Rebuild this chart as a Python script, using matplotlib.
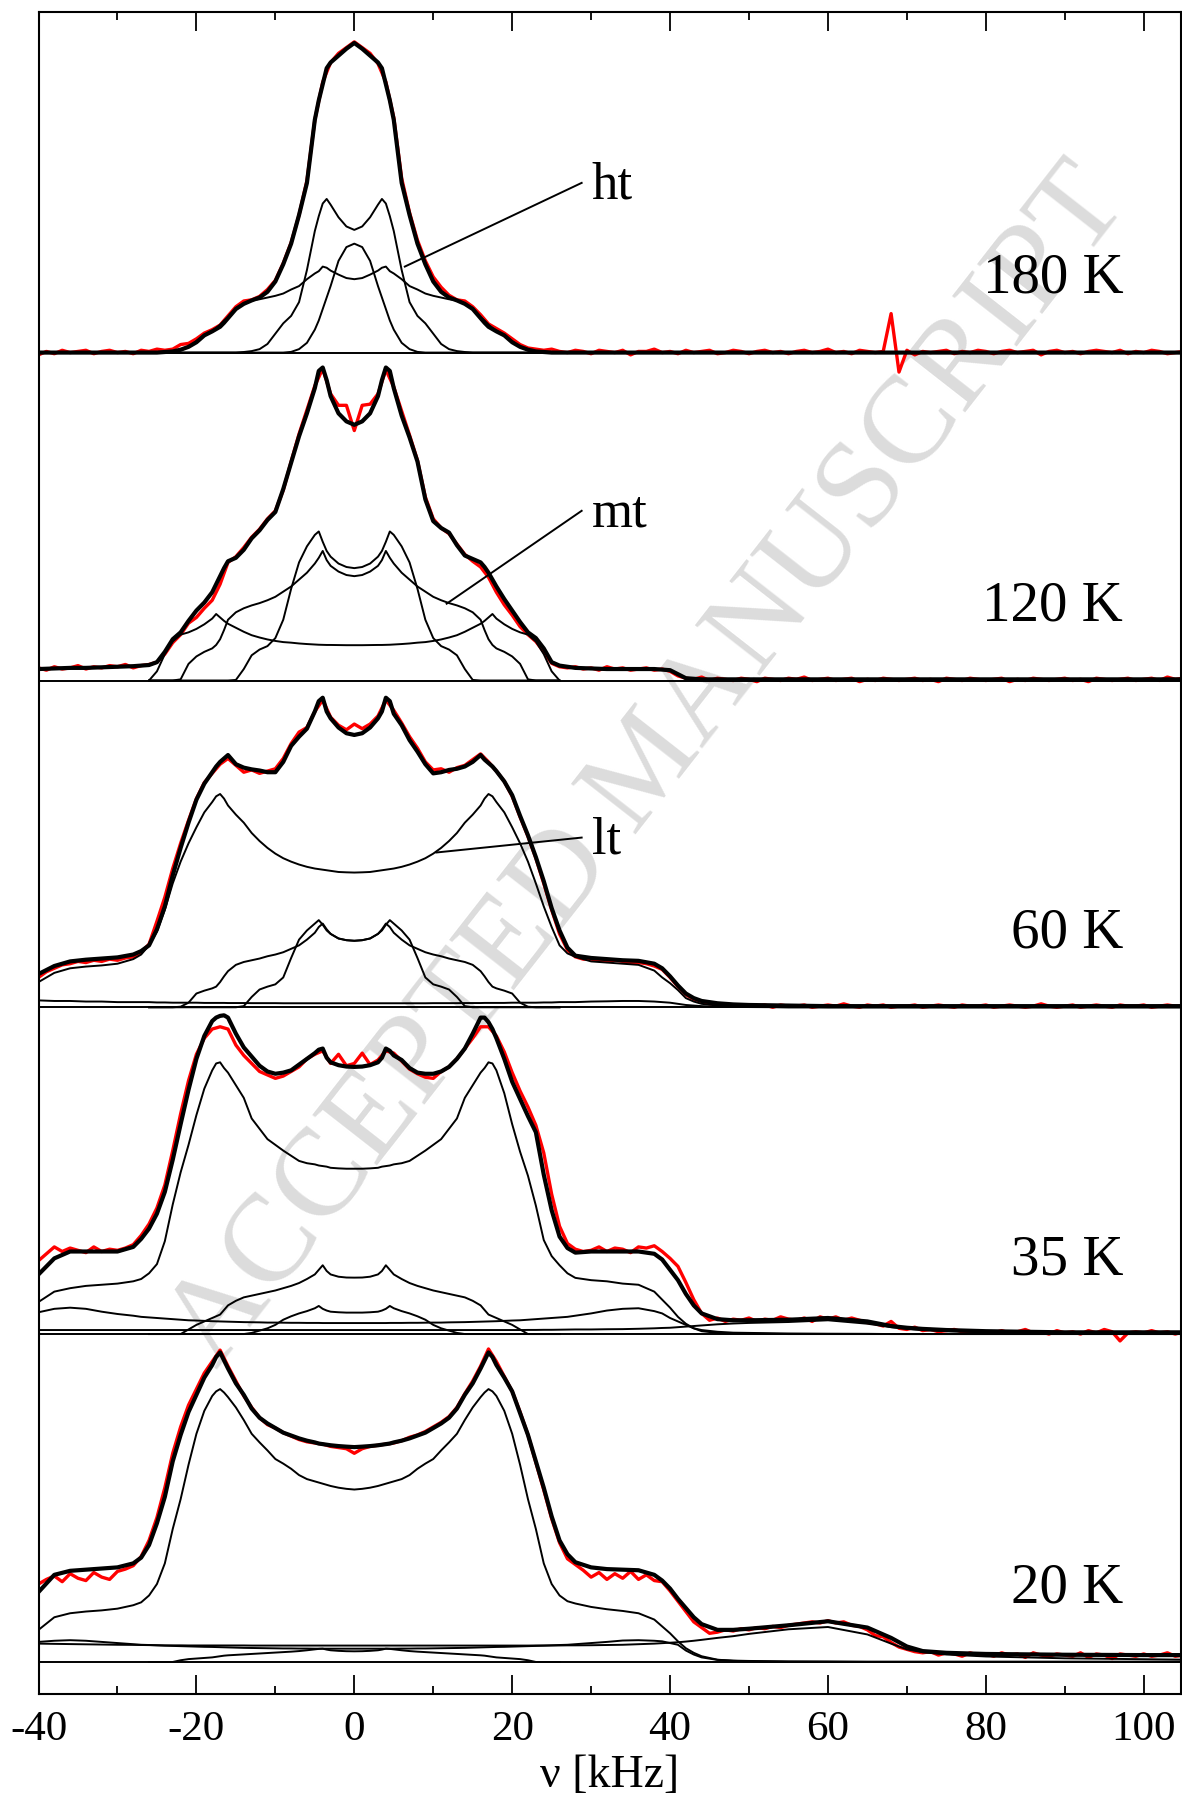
import matplotlib
matplotlib.use('Agg')
import matplotlib.pyplot as plt
import numpy as np

plt.rcParams['font.family'] = ['Liberation Serif', 'DejaVu Serif']
plt.rcParams['axes.unicode_minus'] = False

# frequency grids [kHz]
nu = [-40, -38, -36, -34, -32, -30, -28, -27, -26, -25,
      -24, -23, -22, -21, -20, -19, -18, -17.5, -17, -16.5,
      -16, -15, -14, -13, -12, -11, -10, -9, -8, -7,
      -6, -5, -4.5, -4, -3.5, -3, -2, -1, 0, 1,
      2, 3, 3.5, 4, 4.5, 5, 6, 7, 8, 9,
      10, 11, 12, 13, 14, 15, 16, 16.5, 17, 17.5,
      18, 19, 20, 21, 22, 23, 24, 25, 26, 27,
      28, 30, 32, 34, 36, 38, 39, 40, 41, 42,
      43, 44, 46, 48, 50, 55, 60, 65, 68, 70,
      72, 75, 80, 90, 100, 105]
nu_core = [-26, -25, -24, -23, -22, -21, -20, -19, -18, -17.5,
           -17, -16.5, -16, -15, -14, -13, -12, -11, -10, -9,
           -8, -7, -6, -5, -4.5, -4, -3.5, -3, -2, -1,
           0, 1, 2, 3, 3.5, 4, 4.5, 5, 6, 7,
           8, 9, 10, 11, 12, 13, 14, 15, 16, 16.5,
           17, 17.5, 18, 19, 20, 21, 22, 23, 24, 25,
           26]
nu_exp = list(range(-40, 106))

temps = ['180 K', '120 K', '60 K', '35 K', '20 K']
phases = ['ht', 'mt', 'lt']

# ---------------- 180 K ----------------
exp_180 = [-2, 1, -1, 2, 0, 1, 2, -1, 1, 2,
           0, 1, -1, 2, 1, 3, 2, 3, 7, 8,
           12, 17, 20, 24, 32, 40, 45, 46, 49, 55,
           63, 78, 96, 120, 150, 203, 236, 253, 261, 266,
           271, 266, 261, 252, 236, 205, 152, 122, 98, 80,
           66, 57, 50, 46, 45, 40, 33, 25, 21, 17,
           12, 7, 4, 3, 2, 3, 1, 0, 2, 1,
           -1, 2, 1, 0, 2, -2, 1, 1, 3, 0,
           1, -1, 2, 0, 1, 2, -1, 0, 2, 1,
           -1, 1, 2, 0, 1, -1, 1, 2, 0, 1,
           3, 0, 1, -1, 2, 1, 0, 1, 34, -17,
           2, -2, 1, 0, 1, 2, -1, 1, 0, 2,
           1, -1, 1, 2, 0, 1, 2, -2, 1, 2,
           0, 1, -1, 1, 2, 1, 0, 2, -1, 1,
           0, 2, 1, -1, 0, 1]
fit_180 = [0] * 10 + [
    0.5, 1, 2.5, 5, 9, 15, 18.5, 20.5, 22.5, 26,
    30, 38, 42.5, 45.5, 48, 53, 62, 77, 95, 120,
    148, 203, 220, 234, 248, 253, 259, 265, 270, 265,
    259, 253, 248, 234, 220, 203, 148, 120, 95, 77,
    62, 53, 48, 45.5, 42.5, 38, 30, 26, 22.5, 20.5,
    18.5, 15, 9, 5, 2.5, 1, 0.5, 0, 0, 0] + [0] * 26
ht_180 = [0] * 10 + [
    0, 0, 0, 0, 0.5, 1.3, 3, 7.5, 16.5, 25.5,
    32, 44, 72, 106, 119, 130, 134, 129, 118, 110,
    107, 110, 118, 129, 134, 130, 119, 106, 72, 44,
    32, 25.5, 16.5, 7.5, 3, 1.3, 0.5, 0, 0, 0] + [0] * 11
cen_180 = [0] * 20 + [
    0.6, 3, 8.5, 20, 28, 38, 48, 58, 80, 92,
    95, 92, 80, 58, 48, 38, 28, 20, 8.5, 3,
    0.6] + [0] * 20
brd_180 = [0, 0, 0, 0.5, 2, 5, 10, 15, 19, 21.5,
           24.5, 28, 31, 39, 42.5, 45.5, 46.5, 48, 49.5, 51.5,
           55, 58, 64, 69, 71, 75, 74, 71.5, 68, 65,
           64, 65, 68, 71.5, 74, 75, 71, 69, 64, 58,
           55, 51.5, 49.5, 48, 46.5, 45.5, 42.5, 39, 31, 28,
           24.5, 21.5, 19, 15, 10, 5, 2, 0.5, 0, 0,
           0]

# ---------------- 120 K ----------------
exp_120 = [11, 9, 12, 10, 11, 13, 10, 12, 11, 13,
           12, 14, 11, 13, 14, 16, 23, 33, 40, 50,
           55, 63, 70, 84, 103, 108, 116, 125, 132, 141,
           148, 166, 191, 215, 236, 257, 272, 250, 240, 240,
           218, 240, 241, 250, 271, 256, 235, 214, 192, 160,
           141, 133, 128, 119, 110, 104, 99, 90, 77, 66,
           57, 47, 40, 34, 25, 15, 12, 11, 12, 10,
           11, 9, 12, 10, 11, 9, 10, 11, 9, 10,
           8, 4, 2, 1, 3, 0, 2, 1, 0, 2,
           1, -1, 2, 1, 0, 2, 1, 3, 0, 1,
           2, 0, 1, 2, -1, 1, 0, 2, 1, 0,
           1, 2, 0, 1, -1, 2, 1, 0, 2, 1,
           0, 1, 2, -1, 1, 0, 2, 1, 0, 1,
           2, 0, 1, -1, 2, 1, 0, 1, 2, 0,
           1, 2, 0, 3, 1, 2]
fit_120 = [10, 10.5, 11, 11, 11.5, 12, 12.5, 13, 13.5, 16,
           25, 36, 42, 52, 61, 68, 77, 84, 91, 98,
           104, 107, 114, 124, 131, 140, 147, 167, 190, 213,
           233, 255, 270, 273, 262, 248, 233, 226, 223, 226,
           233, 248, 262, 273, 270, 255, 231, 212, 191, 158,
           139, 133, 129, 118, 109, 106, 103, 99, 94, 88,
           82, 71, 61, 51, 42, 37, 28, 16, 13, 12,
           11, 10.5, 10, 10, 10, 10, 9.5, 9, 5.5, 2,
           1.5, 1, 1, 1, 1, 1, 1, 1, 1, 1,
           1, 1, 1, 1, 1, 1]
ht_120 = [0] * 10 + [
    0, 0, 0, 0.5, 10, 22, 27, 30, 37, 53,
    80, 103, 117, 127, 130, 121, 113, 108, 102, 99,
    98, 99, 102, 108, 113, 121, 130, 127, 117, 103,
    80, 53, 37, 30, 27, 22, 10, 0.5, 0, 0] + [0] * 11
mt_120 = [0, 0, 0, 0, 1, 14.5, 21, 25, 28, 31,
          36, 44, 53, 59.5, 63, 65.5, 67.5, 70, 73, 77.5,
          82, 88, 94, 102, 107, 113, 105, 100, 95, 92,
          91, 92, 95, 100, 105, 113, 107, 102, 94, 88,
          82, 77.5, 73, 70, 67.5, 65.5, 63, 59.5, 53, 44,
          36, 31, 28, 25, 21, 14.5, 1, 0, 0, 0,
          0]
lt_120 = [0, 8, 23, 34, 40, 42, 45, 49, 54, 58,
          55, 52, 49.5, 46, 42.5, 39.5, 37.5, 35.8, 34.5, 33.5,
          33, 32.3, 31.8, 31.4, 31.2, 31.1, 31, 31, 30.9, 30.8,
          30.8, 30.8, 30.9, 31, 31, 31.1, 31.2, 31.4, 31.8, 32.3,
          33, 33.5, 34.5, 35.8, 37.5, 39.5, 42.5, 46, 49.5, 52,
          55, 58, 54, 49, 45, 42, 40, 34, 23, 8,
          0]

# ---------------- 60 K ----------------
exp_60 = [26, 31, 34, 37, 38, 40, 39, 41, 40, 42,
          41, 43, 44, 48, 55, 75, 96, 121, 143, 163,
          182, 196, 204, 212, 217, 211, 205, 207, 204, 206,
          208, 217, 230, 240, 244, 258, 268, 253, 246, 242,
          247, 243, 247, 254, 268, 259, 248, 236, 226, 214,
          207, 208, 205, 209, 211, 216, 221, 214, 206, 197,
          184, 166, 149, 130, 108, 85, 64, 50, 44, 42,
          42, 41, 40, 41, 40, 39, 39, 38, 36, 33,
          26, 18, 11, 7, 5, 3, 3, 2, 2, 1,
          2, 1, 2, 0, 2, 1, 1, 2, 0, 1,
          2, 1, 3, 1, 0, 2, 1, 2, 0, 1,
          1, 2, 0, 1, 2, 1, 0, 2, 1, 1,
          2, 0, 1, 2, 1, 0, 1, 3, 1, 0,
          1, 2, 0, 1, 2, 1, 0, 2, 1, 1,
          2, 0, 1, 2, 1, 1]
fit_60 = [29, 36, 40, 41.5, 42.5, 43.5, 46, 49, 54, 68,
          88, 115, 139, 161, 181, 195, 205, 210, 214, 217,
          220, 212, 209, 207.5, 206.5, 205, 205, 214, 228, 236,
          243, 258, 267, 270, 258, 252, 244, 239, 237.5, 239,
          244, 252, 258, 270, 267, 256, 246, 233, 223, 212,
          204, 205, 207, 208, 210, 214, 220, 216, 213, 210,
          206, 197, 185, 167, 150, 131, 110, 86.5, 67, 52,
          45, 43, 42, 41, 40.5, 38, 34, 27, 19, 12,
          8, 5.5, 3.5, 2.5, 2, 1.5, 1, 1, 1, 1,
          1, 1, 1, 1, 1, 1]
lt_60 = [22, 30, 34, 35.5, 36.5, 38, 42, 46, 54, 66,
         85, 108, 127, 143, 157, 170, 179, 184, 186, 182,
         176, 168, 161, 152, 145, 139, 134, 130, 127, 124.5,
         122.5, 121, 120.5, 120, 119.5, 119, 118, 117.7, 117.5, 117.7,
         118, 119, 119.5, 120, 120.5, 121, 122.5, 124.5, 127, 130,
         134, 139, 145, 152, 161, 168, 176, 182, 186, 184,
         179, 170, 157, 143, 127, 108, 88, 70, 54, 47,
         44, 40, 39, 38, 37, 32, 26, 21, 15, 8,
         5, 3, 1.5, 0.8, 0.5, 0, 0, 0, 0, 0,
         0, 0, 0, 0, 0, 0]
low_60 = [6, 5.5, 5.5, 5, 5, 4.5, 4.5, 4.5, 4.5, 4.2,
          4.2, 4, 4, 4, 4, 3.8, 3.8, 3.8, 3.8, 3.8,
          3.7, 3.7, 3.7, 3.6, 3.6, 3.6, 3.6, 3.5, 3.5, 3.5,
          3.5, 3.5, 3.5, 3.5, 3.5, 3.5, 3.5, 3.5, 3.5, 3.5,
          3.5, 3.5, 3.5, 3.5, 3.5, 3.5, 3.5, 3.5, 3.5, 3.5,
          3.6, 3.6, 3.6, 3.6, 3.7, 3.7, 3.7, 3.8, 3.8, 3.8,
          3.8, 3.8, 4, 4, 4, 4, 4.2, 4.2, 4.5, 4.5,
          4.5, 5, 5.2, 5.5, 5.5, 5, 4.5, 4, 3, 2,
          1.5, 1, 0.5, 0.3, 0.2, 0, 0, 0, 0, 0,
          0, 0, 0, 0, 0, 0]
ht_60 = [0] * 10 + [
    0, 0, 0, 0, 1, 9, 15.5, 18, 20, 26,
    43, 59, 67, 73, 76, 72, 67, 64, 60, 58.5,
    58, 58.5, 60, 64, 67, 72, 76, 73, 67, 59,
    43, 26, 20, 18, 15.5, 9, 1, 0, 0, 0] + [0] * 11
mt_60 = [0, 0, 0, 0, 0.5, 4, 12, 14.5, 16.5, 18,
         22, 27, 31.5, 37, 39.5, 41, 42.5, 44.5, 46, 48,
         51, 54, 59, 65, 70, 73, 68, 64, 60, 58.5,
         58, 58.5, 60, 64, 68, 73, 70, 65, 59, 54,
         51, 48, 46, 44.5, 42.5, 41, 39.5, 37, 31.5, 27,
         22, 18, 16.5, 14.5, 12, 4, 0.5, 0, 0, 0,
         0]

# ---------------- 35 K ----------------
exp_35 = [64, 70, 76, 72, 75, 73, 71, 76, 72, 74,
          73, 75, 78, 86, 96, 110, 130, 160, 192, 221,
          244, 258, 266, 268, 266, 252, 243, 236, 229, 226,
          223, 225, 229, 233, 240, 244, 247, 236, 244, 234,
          236, 245, 235, 239, 247, 245, 238, 231, 227, 224,
          223, 229, 233, 240, 249, 258, 268, 268, 260, 246,
          228, 212, 198, 182, 158, 122, 94, 79, 74, 72,
          73, 76, 72, 75, 74, 71, 76, 75, 77, 72,
          66, 59, 45, 30, 18, 12, 14, 11, 13, 12,
          14, 11, 13, 12, 15, 13, 12, 14, 11, 15,
          13, 15, 12, 14, 12, 10, 9, 7, 11, 5,
          4, 6, 3, 4, 2, 3, 4, 2, 1, 3,
          2, 1, 3, 1, 2, 4, 1, 2, 0, 3,
          1, 2, 0, 3, 1, 4, 2, -6, 1, 2,
          1, 3, 1, 2, 0, 2]
fit_35 = [52, 66, 72, 72, 72, 72, 76, 83, 92, 105,
          124, 152, 183, 213, 240, 260, 273, 276, 277.5, 278,
          276, 262, 250, 242, 234, 229, 227, 228, 230, 235,
          240, 245, 248, 249, 241, 237, 234.5, 233.3, 233, 233.3,
          234.5, 237, 241, 249, 247, 243, 239, 232, 228, 227,
          227, 229, 233, 240, 249, 262, 276, 276, 272, 266,
          258, 240, 220, 205, 190, 176, 139, 108, 85, 75,
          71, 72, 72, 72, 72, 70, 65, 56, 47, 35,
          25, 18, 13, 12, 12, 12.5, 14, 11, 7, 5.5,
          4.5, 3.5, 2.5, 1.5, 1.5, 1.5]
lt_35 = [28, 37, 40, 42, 43, 44, 46, 48, 53, 61,
         81, 113, 141, 165, 191, 214, 230, 236, 237, 232,
         228, 217, 206, 188, 179, 170, 165, 160, 155.5, 151,
         149, 148, 147, 146.5, 146, 145, 144.5, 144.2, 144.2, 144.2,
         144.5, 145, 146, 146.5, 147, 148, 149, 151, 155.5, 160,
         165, 170, 179, 188, 206, 217, 228, 232, 237, 236,
         230, 210, 183, 159, 138, 112, 82, 68, 60, 53,
         49, 47, 46, 44, 43, 37, 30, 23, 15, 9,
         5, 2.5, 1, 0.5, 0.3, 0, 0, 0, 0, 0,
         0, 0, 0, 0, 0, 0]
lt2_35 = [19, 22, 23, 22, 19.5, 17.5, 16, 15, 14.5, 14,
          13.5, 13, 12.5, 12, 11.8, 11.5, 11.2, 11.1, 11, 10.9,
          10.8, 10.6, 10.4, 10.3, 10.2, 10, 10, 9.9, 9.8, 9.8,
          9.7, 9.7, 9.7, 9.6, 9.6, 9.6, 9.6, 9.6, 9.6, 9.6,
          9.6, 9.6, 9.6, 9.6, 9.7, 9.7, 9.7, 9.8, 9.8, 9.9,
          10, 10, 10.2, 10.3, 10.4, 10.6, 10.8, 10.9, 11, 11.1,
          11.2, 11.5, 11.8, 12, 12.5, 13, 13.5, 14, 14.5, 15,
          16, 18, 20.5, 22, 22.5, 20, 18, 14, 11, 8,
          5, 3.5, 2, 1.2, 1, 0.5, 0.3, 0.2, 0, 0,
          0, 0, 0, 0, 0, 0]
sat_35 = [3.5] * 60 + [
    3.5, 3.5, 3.5, 3.5, 3.6, 3.6, 3.7, 3.7, 3.8, 3.9,
    4, 4, 4.2, 4.3, 4.6, 5, 5.3, 5.5, 6, 6.5,
    7, 7.5, 8.5, 9.2, 9.7, 10.5, 12, 9, 6, 4.5,
    3.5, 2.5, 1.5, 1, 0.8, 0.7]
mt_35 = [0, 0, 0, 0, 0, 4, 8, 11, 14, 15.5,
         17, 21, 25, 29, 32, 33.5, 35, 36.5, 38, 40,
         42, 44.5, 48, 52, 56, 60, 55, 52, 50, 49.3,
         49.2, 49.3, 50, 52, 55, 60, 56, 52, 48, 44.5,
         42, 40, 38, 36.5, 35, 33.5, 32, 29, 25, 21,
         17, 15.5, 14, 11, 8, 4, 0, 0, 0, 0,
         0]
ht_35 = [0] * 10 + [
    0, 0, 0, 0, 0, 1, 3, 5, 8, 12.5,
    15.5, 18, 20, 22.5, 24.5, 22, 20.5, 19.5, 19, 18.7,
    18.7, 18.7, 19, 19.5, 20.5, 22, 24.5, 22.5, 20, 18,
    15.5, 12.5, 8, 5, 3, 1, 0, 0, 0, 0] + [0] * 11

# ---------------- 20 K ----------------
exp_20 = [68, 72, 75, 70, 77, 73, 71, 78, 74, 72,
          79, 81, 84, 92, 106, 126, 152, 182, 205, 224,
          238, 252, 262, 272, 258, 245, 232, 222, 213, 207,
          204, 200, 197, 194, 192, 191, 190, 188, 187, 186,
          182, 186, 188, 189, 190, 191, 193, 196, 198, 201,
          205, 209, 214, 222, 234, 245, 258, 273, 262, 249,
          236, 218, 198, 174, 150, 125, 104, 90, 85, 80,
          74, 78, 72, 77, 73, 79, 72, 76, 71, 70,
          62, 53, 44, 35, 30, 25, 26, 28, 27, 29,
          28, 30, 29, 31, 30, 32, 33, 34, 35, 34,
          36, 34, 35, 32, 31, 28, 23, 22, 17, 13,
          11, 9, 8, 9, 6, 8, 7, 5, 8, 6,
          7, 5, 8, 6, 7, 4, 8, 6, 5, 7,
          6, 5, 8, 4, 7, 6, 3, 7, 6, 5,
          7, 5, 6, 8, 5, 6]
fit_20 = [61, 76, 79.5, 80.5, 81.5, 82.5, 86, 91, 102, 121,
          144, 175, 198, 218, 233, 248, 259, 266, 270, 263,
          256, 243, 233, 221, 213, 208, 204, 200, 197.5, 195,
          193, 191.5, 190.5, 190, 189.5, 189, 188.3, 187.8, 187.4, 187.8,
          188.3, 189, 189.5, 190, 190.5, 191.5, 193, 195, 197.5, 200,
          204, 208, 213, 221, 233, 243, 256, 263, 270, 266,
          259, 248, 236, 217, 198, 175, 152, 127, 106, 94,
          87, 82.5, 81, 80.5, 80, 76, 71, 64, 55, 47,
          39, 33, 28, 28, 29, 32, 35.5, 30, 21, 13.5,
          9.5, 8, 7, 6.3, 6, 6]
lt_20 = [28, 39, 42.5, 44, 45, 46.5, 49.5, 52, 58, 68,
         86, 116, 142, 172, 199, 219, 232, 236, 238, 235,
         231, 222, 211, 199, 191.5, 184.5, 177, 173, 168.5, 163,
         159.5, 157.5, 156.5, 155.5, 154.5, 153.5, 152, 151, 150.4, 151,
         152, 153.5, 154.5, 155.5, 156.5, 157.5, 159.5, 163, 168.5, 173,
         177, 184.5, 191.5, 199, 211, 222, 231, 235, 238, 236,
         232, 219, 199, 172, 142, 116, 86, 68, 58, 53,
         51, 48, 46, 44.5, 42.5, 37, 31, 25, 18, 12,
         8, 5, 2, 1, 0.5, 0, 0, 0, 0, 0,
         0, 0, 0, 0, 0, 0]
lt2_20 = [17.5, 18.5, 19, 18.5, 17.5, 16.5, 15.5, 15, 14.8, 14.5,
          14.2, 14, 13.8, 13.6, 13.4, 13.2, 13.1, 13, 12.9, 12.8,
          12.7, 12.5, 12.3, 12.2, 12.1, 12, 11.9, 11.8, 11.8, 11.7,
          11.7, 11.6, 11.6, 11.6, 11.6, 11.6, 11.6, 11.6, 11.6, 11.6,
          11.6, 11.6, 11.6, 11.6, 11.6, 11.6, 11.7, 11.7, 11.8, 11.8,
          11.9, 12, 12.1, 12.2, 12.3, 12.5, 12.7, 12.8, 12.9, 13,
          13.1, 13.2, 13.4, 13.6, 13.8, 14, 14.2, 14.5, 14.8, 15,
          15.5, 16.5, 17.5, 18.7, 19, 18.5, 18, 16.5, 15, 10,
          6.5, 4, 1.8, 1.2, 0.9, 0.6, 0.5, 0.3, 0.3, 0.3,
          0.3, 0.3, 0.3, 0.3, 0.3, 0.3]
sat_20 = [16, 15.8, 15.6, 15.4, 15.2, 15, 14.9, 14.8, 14.7, 14.6,
          14.5, 14.5, 14.5, 14.4, 14.4, 14.4, 14.4, 14.4, 14.4, 14.4,
          14.4, 14.4, 14.4, 14.3, 14.3, 14.3, 14.3, 14.3, 14.3, 14.3] + [14.3] * 30 + [
          14.3, 14.3, 14.3, 14.3, 14.3, 14.4, 14.4, 14.4, 14.4, 14.5,
          14.5, 14.6, 14.8, 15, 15.5, 16, 16.4, 16.8, 17.2, 17.8,
          18.5, 19.3, 21, 22.5, 24.5, 28.5, 30.5, 24, 16, 11,
          8.5, 6.5, 4.8, 3.2, 2.4, 2]
ht_20 = [0, 0, 0, 0, 1.5, 2.5, 3, 3.5, 4, 4.5,
         5, 5.5, 5.8, 6.2, 6.6, 7, 7.4, 7.8, 8.2, 8.6,
         9, 9.5, 10.2, 11, 11.4, 11.6, 10.8, 10.2, 9.7, 9.4,
         9.3, 9.4, 9.7, 10.2, 10.8, 11.6, 11.4, 11, 10.2, 9.5,
         9, 8.6, 8.2, 7.8, 7.4, 7, 6.6, 6.2, 5.8, 5.5,
         5, 4.5, 4, 3.5, 3, 2.5, 1.5, 0, 0, 0,
         0]

panels = [
    (exp_180, fit_180, [], [ht_180, cen_180, brd_180]),
    (exp_120, fit_120, [], [ht_120, mt_120, lt_120]),
    (exp_60, fit_60, [lt_60, low_60], [ht_60, mt_60]),
    (exp_35, fit_35, [lt_35, lt2_35, sat_35], [mt_35, ht_35]),
    (exp_20, fit_20, [lt_20, lt2_20, sat_20], [ht_20]),
]
offsets = [1170, 884, 599, 314, 28]

# phase labels: where the leader line touches the curve (kHz, height above baseline)
leader_ends = [(6.4, 75), (11.7, 67), (10.4, 135)]


def draw_panel(ax, offset, exp, fit, broad, core):
    ax.axhline(offset, color='black', lw=1.4, zorder=3)
    ax.plot(nu_exp, np.array(exp) + offset, color='red', lw=2.4, zorder=2)
    for comp in broad:
        ax.plot(nu, np.array(comp) + offset, color='black', lw=1.4, zorder=3)
    for comp in core:
        ax.plot(nu_core, np.array(comp) + offset, color='black', lw=1.4, zorder=3)
    ax.plot(nu, np.array(fit) + offset, color='black', lw=3.0, zorder=4)


fig = plt.figure(figsize=(11.82, 17.98), dpi=100)
ax = fig.add_axes([0.0326, 0.0578, 0.9666, 0.9355])

for (exp, fit, broad, core), off, temp in zip(panels, offsets, temps):
    draw_panel(ax, off, exp, fit, broad, core)
    ax.text(97.4, off + 52, temp, ha='right', va='baseline', fontsize=41)

for phase, off, (xe, ye) in zip(phases, offsets, leader_ends):
    ax.plot([28.8, xe], [off + 148, off + ye], color='black', lw=1.4, zorder=5)
    ax.text(30.1, off + 134, phase, ha='left', va='baseline', fontsize=38)

ax.text(0.55, 0.573, 'ACCEPTED MANUSCRIPT', transform=fig.transFigure,
        rotation=52, rotation_mode='anchor', ha='center', va='center',
        fontsize=90, color='#dcdcdc', zorder=1)

ax.set_xlim(-40, 104.73)
ax.set_ylim(0, 1467)
ax.set_xticks([-40, -20, 0, 20, 40, 60, 80, 100])
ax.set_xticks([-30, -10, 10, 30, 50, 70, 90], minor=True)
ax.set_yticks([])
ax.tick_params(which='both', direction='in', top=True, bottom=True, width=1.3)
ax.tick_params(which='major', length=14, labelsize=31, pad=12)
ax.tick_params(which='minor', length=5.5)
for sp in ax.spines.values():
    sp.set_linewidth(1.5)
ax.set_xlabel('ν [kHz]', fontsize=33)
ax.xaxis.set_label_coords(0.5, -0.036)

fig.savefig('out.png', dpi=100)
